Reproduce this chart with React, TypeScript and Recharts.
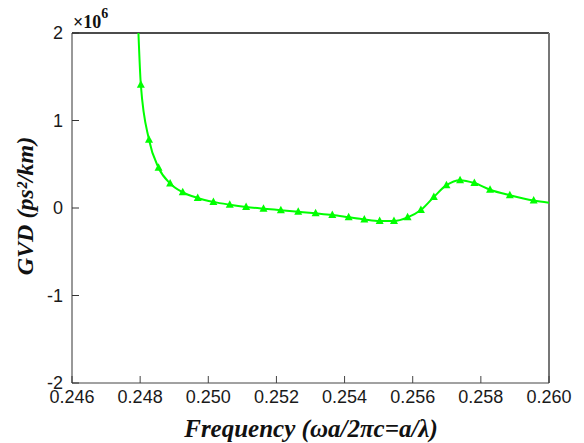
import React from "react";
import { LineChart, Line, XAxis, YAxis, ReferenceLine } from "recharts";

// frequency (ωa/2πc) and GVD in units of 1e6 ps²/km
const freq = [
  0.24795, 0.24802, 0.24826, 0.24854, 0.24888, 0.24925, 0.24969, 0.25015, 0.25063,
  0.25111, 0.25162, 0.25213, 0.25264, 0.25315, 0.25364, 0.25412, 0.25458, 0.25503,
  0.25545, 0.25585, 0.25624, 0.25662, 0.25699, 0.25739, 0.25781, 0.25827, 0.25885,
  0.25955, 0.26,
];
const gvd = [
  2.0, 1.41, 0.78, 0.46, 0.28, 0.18, 0.115, 0.07, 0.038,
  0.012, -0.008, -0.025, -0.043, -0.061, -0.08, -0.106, -0.131, -0.149,
  -0.149, -0.107, -0.023, 0.126, 0.261, 0.318, 0.285, 0.209, 0.146,
  0.085, 0.061,
];
const xTicks = [0.246, 0.248, 0.25, 0.252, 0.254, 0.256, 0.258, 0.26];
const yTicks = [-2, -1, 0, 1, 2];

const data = freq.map((f, i) => ({ f, v: gvd[i] }));

const GREEN = "#00ff00";
const tickFont = { fontFamily: "'Liberation Sans', Arial, sans-serif", fontSize: 18, fill: "#1a1a1a" };
const labelFont = {
  fontFamily: "'Liberation Serif', 'Times New Roman', serif",
  fontWeight: 700,
  fontStyle: "italic",
  fontSize: 25,
  fill: "#111",
};

// filled triangle markers, none on the clipped start and the end point
const Triangle = (props: any) => {
  const { cx, cy, index } = props;
  if (index === 0 || index === data.length - 1 || cx == null) return <g key={`d${index}`} />;
  return (
    <path
      key={`d${index}`}
      d={`M${cx},${cy - 4.5} L${cx + 4},${cy + 3} L${cx - 4},${cy + 3} Z`}
      fill={GREEN}
      stroke="none"
    />
  );
};

export default function App() {
  return (
    <div style={{ position: "absolute", left: 0, top: 0, background: "#fff" }}>
      <LineChart width={584} height={443} data={data} margin={{ top: 33, right: 35, left: 0, bottom: 0 }}>
        <XAxis
          dataKey="f"
          type="number"
          domain={[0.246, 0.26]}
          ticks={xTicks}
          interval={0}
          allowDataOverflow
          tickFormatter={(v: number) => v.toFixed(3)}
          tick={tickFont}
          tickSize={-7}
          tickMargin={14}
          height={60}
          stroke="#444"
          label={{
            content: () => (
              <text x={311} y={437} textAnchor="middle" style={labelFont}>
                Frequency (ωa/2πc=a/λ)
              </text>
            ),
          }}
        />
        <YAxis
          type="number"
          domain={[-2, 2]}
          ticks={yTicks}
          interval={0}
          allowDataOverflow
          tick={tickFont}
          tickSize={-7}
          tickMargin={16}
          width={72}
          stroke="#333"
          label={{
            content: () => (
              <g>
                <text
                  x={33}
                  y={206}
                  transform="rotate(-90 33 206)"
                  textAnchor="middle"
                  style={{ ...labelFont, fontSize: 24 }}
                >
                  GVD (ps²/km)
                </text>
                <text
                  x={73}
                  y={28}
                  style={{ fontFamily: "'Liberation Serif', 'Times New Roman', serif", fontWeight: 700, fontSize: 18, fill: "#111" }}
                >
                  ×10
                  <tspan dy={-10} fontSize={14}>
                    6
                  </tspan>
                </text>
              </g>
            ),
          }}
        />
        <ReferenceLine y={2} stroke="#111" strokeWidth={1.5} ifOverflow="visible" />
        <ReferenceLine x={0.26} stroke="#777" strokeWidth={2} ifOverflow="visible" />
        <Line
          type="monotone"
          dataKey="v"
          stroke={GREEN}
          strokeWidth={2}
          dot={Triangle}
          activeDot={false}
          isAnimationActive={false}
        />
      </LineChart>
    </div>
  );
}
